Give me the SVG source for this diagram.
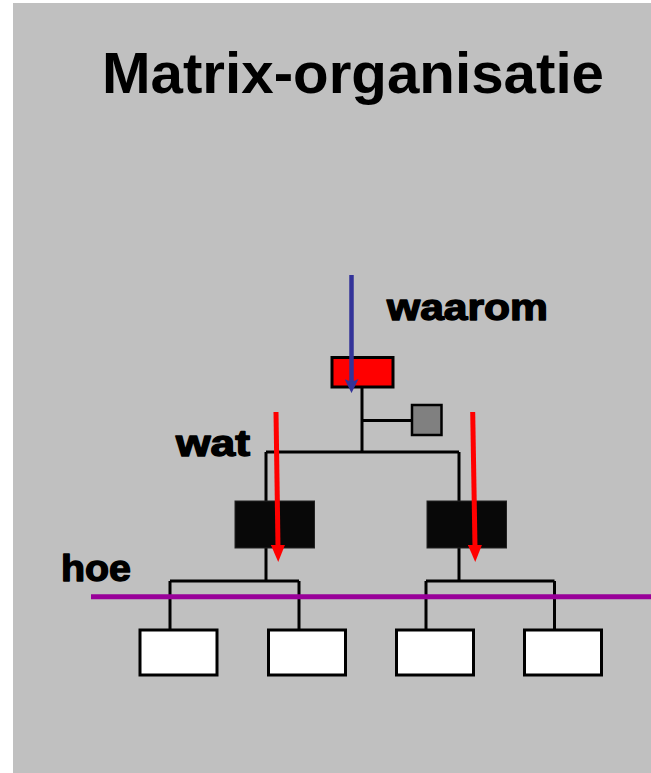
<svg xmlns="http://www.w3.org/2000/svg" width="651" height="773" viewBox="0 0 651 773">
<style>
.lbl{font-family:"Liberation Sans",Arial,sans-serif;font-weight:bold;fill:#000;stroke:#000;stroke-width:1.4;stroke-linejoin:round}
.ln{stroke:#000;stroke-width:3;fill:none}
.wb{fill:#fff;stroke:#000;stroke-width:3}
.bb{fill:#080808;stroke:#222;stroke-width:1}
.ar{stroke:#ff0000;stroke-width:5;marker-end:url(#ah-red)}
</style>
<defs>
<marker id="ah-red" markerWidth="17" markerHeight="14" refX="2" refY="7" orient="auto" markerUnits="userSpaceOnUse" viewBox="0 0 17 14"><path d="M0,0 L17,7 L0,14 Z" fill="#ff0000"/></marker>
<marker id="ah-blue" markerWidth="14" markerHeight="14" refX="3" refY="7" orient="auto" markerUnits="userSpaceOnUse" viewBox="0 0 14 14"><path d="M0,0 L14,7 L0,14 L3,7 Z" fill="#333399"/></marker>
</defs>
<rect x="13" y="3" width="638" height="770" fill="#c0c0c0"/>
<text x="353" y="93" text-anchor="middle" font-family="Liberation Sans,Arial,sans-serif" font-weight="bold" font-size="58" textLength="502" lengthAdjust="spacingAndGlyphs">Matrix-organisatie</text>
<text class="lbl" x="387" y="320" font-size="37" textLength="161" lengthAdjust="spacingAndGlyphs">waarom</text>
<text class="lbl" x="176" y="456" font-size="37" textLength="74" lengthAdjust="spacingAndGlyphs">wat</text>
<text class="lbl" x="61" y="581" font-size="37" textLength="70" lengthAdjust="spacingAndGlyphs">hoe</text>
<g id="connectors">
<path class="ln" d="M362,387 V452 M362,420.5 H411 M266,452 H459 M266,452 V501 M459,452 V501 M266,548 V581 M459,548 V581 M170,581 H299 M426,581 H554.5 M170,581 V630 M299,581 V630 M426,581 V630 M554.5,581 V630"/>
</g>
<g id="n-top"><rect x="332" y="357.5" width="61" height="29.5" fill="#ff0000" stroke="#000" stroke-width="3"/></g>
<g id="n-staff"><rect x="412" y="405" width="29.5" height="30" fill="#808080" stroke="#000" stroke-width="2.5"/></g>
<g id="n-mid1"><rect class="bb" x="235" y="501" width="79.5" height="47"/></g>
<g id="n-mid2"><rect class="bb" x="427" y="501" width="79.5" height="47"/></g>
<g id="n-w1"><rect class="wb" x="140" y="630" width="77" height="45"/></g>
<g id="n-w2"><rect class="wb" x="268.5" y="630" width="77" height="45"/></g>
<g id="n-w3"><rect class="wb" x="396.5" y="630" width="77" height="45"/></g>
<g id="n-w4"><rect class="wb" x="524.5" y="630" width="77" height="45"/></g>
<g id="arrows">
<line x1="351.5" y1="275" x2="351.5" y2="382" stroke="#333399" stroke-width="4.5" marker-end="url(#ah-blue)"/>
<line class="ar" x1="276" y1="412" x2="278" y2="547"/>
<line class="ar" x1="472.7" y1="412" x2="475" y2="547"/>
<line x1="91" y1="596.7" x2="651" y2="596.7" stroke="#990099" stroke-width="5"/>
</g>
</svg>
